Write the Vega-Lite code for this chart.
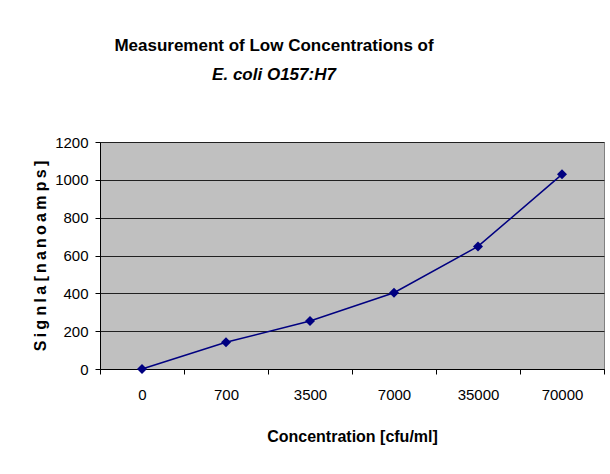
{
  "$schema": "https://vega.github.io/schema/vega-lite/v6.json",
  "autosize": {"type": "none"},
  "padding": {"left": 100, "top": 142, "right": 6, "bottom": 105},
  "width": 504,
  "height": 227,
  "background": "white",
  "title": {
    "text": "Measurement of Low Concentrations of",
    "subtitle": "E. coli O157:H7",
    "anchor": "middle",
    "frame": "group",
    "dx": -78,
    "offset": 51,
    "font": "Liberation Sans",
    "fontSize": 17,
    "fontWeight": "bold",
    "color": "black",
    "subtitleFont": "Liberation Sans",
    "subtitleFontSize": 17,
    "subtitleFontWeight": "bold",
    "subtitleFontStyle": "italic",
    "subtitleColor": "black",
    "subtitlePadding": 12
  },
  "data": {
    "values": [
      {"concentration": "0", "signal": 0},
      {"concentration": "700", "signal": 141},
      {"concentration": "3500", "signal": 254},
      {"concentration": "7000", "signal": 403},
      {"concentration": "35000", "signal": 648},
      {"concentration": "70000", "signal": 1029}
    ]
  },
  "encoding": {
    "x": {
      "field": "concentration",
      "type": "ordinal",
      "sort": null,
      "scale": {"type": "band", "paddingInner": 0, "paddingOuter": 0},
      "axis": {
        "title": "Concentration [cfu/ml]",
        "labelAngle": 0,
        "tickBand": "extent",
        "grid": false,
        "domainColor": "black",
        "tickColor": "black",
        "tickSize": 5,
        "labelPadding": 13,
        "labelFont": "Liberation Sans",
        "labelFontSize": 15,
        "labelColor": "black",
        "titleFont": "Liberation Sans",
        "titleFontSize": 16,
        "titleFontWeight": "bold",
        "titleColor": "black",
        "titlePadding": 26
      }
    },
    "y": {
      "field": "signal",
      "type": "quantitative",
      "scale": {"domain": [0, 1200], "nice": false},
      "axis": {
        "title": "S\u2009i\u2009g n\u2009l\u2009a [\u2009n\u2009a\u2009n\u2009o\u2009a\u2009m p\u2009s\u2009]",
        "values": [0, 200, 400, 600, 800, 1000, 1200],
        "format": "d",
        "grid": true,
        "gridColor": "#202020",
        "gridWidth": 1,
        "domainColor": "black",
        "tickColor": "black",
        "tickSize": 5,
        "labelPadding": 7,
        "labelFont": "Liberation Sans",
        "labelFontSize": 15,
        "labelColor": "black",
        "titleFont": "Liberation Sans",
        "titleFontSize": 16,
        "titleFontWeight": "bold",
        "titleColor": "black",
        "titlePadding": 6
      }
    }
  },
  "layer": [
    {"mark": {"type": "line", "color": "#000080", "strokeWidth": 1.5}},
    {"mark": {"type": "point", "shape": "diamond", "filled": true, "color": "#000080", "opacity": 1, "size": 100}}
  ],
  "config": {
    "view": {"fill": "#C0C0C0", "stroke": "#808080", "strokeWidth": 1}
  }
}
